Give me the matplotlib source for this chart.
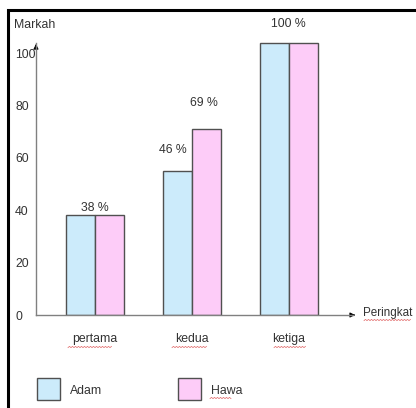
import matplotlib
matplotlib.use("Agg")
import matplotlib.pyplot as plt
from matplotlib.patches import Rectangle
from matplotlib.lines import Line2D
import numpy as np

plt.rcParams['font.family'] = ['Liberation Sans', 'DejaVu Sans']

# ---- data ----
categories = ["pertama", "kedua", "ketiga"]
series_names = ["Adam", "Hawa"]
adam = [38, 55, 104]
hawa = [38, 71, 104]
value_labels = ["38 %", "46 %", "69 %", "100 %"]
y_ticks = [0, 20, 40, 60, 80, 100]
y_title = "Markah"
x_title = "Peringkat"

# ---- layout (positions of annotation labels, in data coords) ----
label_pos = [(0.0, 41.0), (0.80, 63.0), (1.12, 81.0), (1.99, 111.0)]

W, H = 416, 408
fig = plt.figure(figsize=(W / 100, H / 100), dpi=100)
fig.patch.set_facecolor("white")

def fx(px):
    return px / W

def fy(py):
    return 1 - py / H

# axes: left at y axis (x=36px), bottom at baseline (y=315px), top at 10px
ax = fig.add_axes([fx(36), fy(315), fx(416) - fx(36), fy(10) - fy(315)])
ax.set_facecolor("none")
ax.set_xlim(-0.608, (416 - 95) / 97)
ax.set_ylim(0, (315 - 10) / 2.62)
for s in ax.spines.values():
    s.set_visible(False)

x = np.arange(len(categories))
w = 0.30
blue = "#CCEBFB"
pink = "#FDCCF8"
edge = "#505050"
ax.bar(x - w / 2, adam, width=w, color=blue, edgecolor=edge, linewidth=1.0, zorder=3)
ax.bar(x + w / 2, hawa, width=w, color=pink, edgecolor=edge, linewidth=1.0, zorder=3)

txt = "#333333"
fs = 8.8

# y ticks
ax.set_yticks(y_ticks)
ax.set_yticklabels([str(t) for t in y_ticks], fontsize=fs, color=txt)
ax.tick_params(axis="y", length=0, pad=15)
for lab in ax.get_yticklabels():
    lab.set_horizontalalignment("left")

# x ticks
ax.set_xticks(x)
ax.set_xticklabels(categories, fontsize=fs, color=txt)
ax.tick_params(axis="x", length=0, pad=13)

# axes arrows
ax.plot([-0.608, -0.608], [0, 104], color="#808080", lw=1.0, zorder=4, clip_on=False)
ax.annotate("", xy=(-0.608, 104.5), xytext=(-0.608, 101.5),
            arrowprops=dict(arrowstyle="-|>", color="black", lw=0.8,
                            mutation_scale=7), annotation_clip=False)
ax.plot([-0.608, 2.66], [0, 0], color="#808080", lw=1.0, zorder=4, clip_on=False)
ax.annotate("", xy=(2.71, 0), xytext=(2.64, 0),
            arrowprops=dict(arrowstyle="-|>", color="black", lw=0.8,
                            mutation_scale=7), annotation_clip=False)

# value labels
for (lx, ly), t in zip(label_pos, value_labels):
    ax.text(lx, ly, t, ha="center", va="center", fontsize=fs, color=txt, zorder=5)

# axis titles
ax.text(2.765, 0.8, x_title, ha="left", va="center", fontsize=8.4, color=txt, clip_on=False)
fig.text(fx(14), fy(25), y_title, ha="left", va="center", fontsize=fs, color=txt)

# spelling squiggles (as in the reference)
def squiggle(x0, x1, y):
    xs = np.arange(x0, x1, 1.5)
    ys = y + 0.6 * np.where(np.arange(len(xs)) % 2 == 0, 1, -1)
    fig.add_artist(Line2D([fx(v) for v in xs], [fy(v) for v in ys],
                          color="#e06060", lw=0.5))

squiggle(68, 112, 347)
squiggle(172, 207, 347)
squiggle(274, 307, 347)
squiggle(364, 412, 320)
squiggle(210, 232, 398)

# legend
for i, (name, col) in enumerate(zip(series_names, [blue, pink])):
    x0 = [37, 178][i]
    fig.add_artist(Rectangle((fx(x0), fy(400)), fx(23), fy(378) - fy(400),
                             facecolor=col, edgecolor=edge, lw=1.0,
                             transform=fig.transFigure))
    fig.text(fx(x0 + 33), fy(391), name, ha="left", va="center", fontsize=fs, color=txt)

# frame
fig.add_artist(Rectangle((fx(8), -0.1), 1.2, fy(10) + 0.1, fill=False,
                         edgecolor="black", lw=2.2, transform=fig.transFigure))

fig.savefig("out.png", dpi=100)
